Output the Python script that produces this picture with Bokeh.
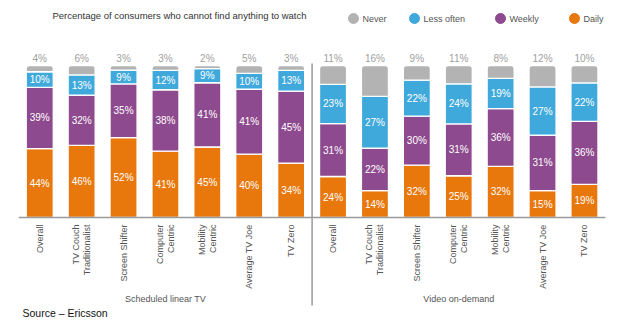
import math
from bokeh.plotting import figure
from bokeh.models import Range1d, ColumnDataSource
from bokeh.core.properties import value
from bokeh.embed import file_html
from bokeh.resources import INLINE

# ---------------- data ----------------
categories = ["Overall", "TV Couch\nTraditionalist", "Screen Shifter", "Computer\nCentric",
              "Mobility\nCentric", "Average TV Joe", "TV Zero"]
groups = ["Scheduled linear TV", "Video on-demand"]
series = ["Never", "Less often", "Weekly", "Daily"]

linear_daily = [44, 46, 52, 41, 45, 40, 34]
linear_weekly = [39, 32, 35, 38, 41, 41, 45]
linear_less = [10, 13, 9, 12, 9, 10, 13]
linear_never = [4, 6, 3, 3, 2, 5, 3]

vod_daily = [24, 14, 32, 25, 32, 15, 19]
vod_weekly = [31, 22, 30, 31, 36, 31, 36]
vod_less = [23, 27, 22, 24, 19, 27, 22]
vod_never = [11, 16, 9, 11, 8, 12, 10]

title_text = "Percentage of consumers who cannot find anything to watch"
source_text = "Source \u2013 Ericsson"

# ---------------- styling ----------------
COLORS = {"Never": "#b3b3b3", "Less often": "#40a9dc", "Weekly": "#8e4a8e", "Daily": "#e8780c"}
FONT = value("Liberation Sans")
W, H = 617, 325
X0, UX = 18.3, 41.9      # pixel of x=0, pixels per category
Y0, UY = 217.0, 1.52     # pixel of y=0, pixels per percent


def dx(px):
    return (px - X0) / UX


def dy(py):
    return (Y0 - py) / UY


p = figure(width=W, height=H, output_backend="svg", toolbar_location=None,
           x_range=Range1d(dx(0), dx(W)), y_range=Range1d(dy(H), dy(0)),
           x_axis_location=None, y_axis_location=None, min_border=0,
           outline_line_color=None, background_fill_color="white")
p.xgrid.visible = False
p.ygrid.visible = False

daily = linear_daily + vod_daily
weekly = linear_weekly + vod_weekly
less = linear_less + vod_less
never = linear_never + vod_never
n = len(daily)
xs = [i + 0.5 for i in range(n)]

stack_order = [("Daily", daily), ("Weekly", weekly), ("Less often", less), ("Never", never)]
totals = [sum(v[i] for _, v in stack_order) for i in range(n)]

bottoms = [0.0] * n
for name, vals in stack_order:
    heights = [vals[i] / totals[i] * 100 for i in range(n)]
    tops = [bottoms[i] + heights[i] for i in range(n)]
    src = ColumnDataSource(dict(x=xs, bottom=bottoms, top=tops,
                                mid=[(bottoms[i] + tops[i]) / 2 for i in range(n)],
                                lab=[f"{v}%" for v in vals]))
    kw = {}
    if name == "Never":
        kw["border_radius"] = (3, 3, 0, 0)
    p.vbar(x="x", bottom="bottom", top="top", width=0.645, source=src,
           fill_color=COLORS[name], line_color="white", line_width=1.3, **kw)
    if name == "Never":
        p.text(x="x", y="top", text="lab", source=src, text_font=FONT,
               text_font_size="10px", text_color="#a0a0a0", text_align="center",
               text_baseline="bottom", y_offset=-2)
    else:
        p.text(x="x", y="mid", text="lab", source=src, text_font=FONT,
               text_font_size="10px", text_color="white", text_align="center",
               text_baseline="middle")
    bottoms = tops

# baseline and divider
p.segment(x0=[0], y0=[0], x1=[n], y1=[0], line_color="#9a9a9a", line_width=1.5)
p.segment(x0=[n / 2], y0=[dy(63)], x1=[n / 2], y1=[dy(305)], line_color="#9a9a9a", line_width=1.5)

# category labels (rotated)
p.text(x=xs, y=[dy(224)] * n, text=categories * 2, angle=math.pi / 2,
       text_font=FONT, text_font_size="9px", text_color="#555555",
       text_align="right", text_baseline="middle", text_line_height=1.1)

# group labels
p.text(x=[n / 4, 3 * n / 4], y=[dy(298)] * 2, text=groups, text_font=FONT,
       text_font_size="9px", text_color="#555555", text_align="center",
       text_baseline="middle")

# title
p.text(x=[dx(52)], y=[dy(15)], text=[title_text], text_font=FONT,
       text_font_size="9.5px", text_color="#333333", text_align="left",
       text_baseline="middle")

# legend
leg_px = [353, 414, 500, 574]
p.scatter(x=[dx(v) for v in leg_px], y=[dy(18)] * 4, size=10,
          color=[COLORS[s] for s in series])
p.text(x=[dx(v + 9) for v in leg_px], y=[dy(18)] * 4, text=series, text_font=FONT,
       text_font_size="9px", text_color="#555555", text_align="left",
       text_baseline="middle")

# source
p.text(x=[dx(22)], y=[dy(312)], text=[source_text], text_font=FONT,
       text_font_size="10.5px", text_color="#111111", text_align="left",
       text_baseline="middle")

open("out.html", "w").write(file_html(p, INLINE))
